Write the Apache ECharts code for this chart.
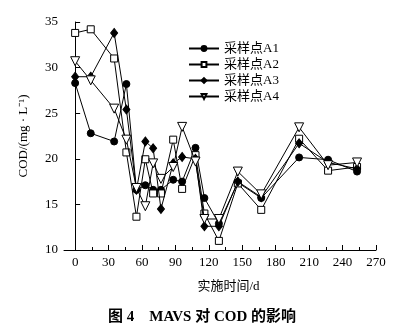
<!DOCTYPE html>
<html>
<head>
<meta charset="utf-8">
<script src="https://cdn.jsdelivr.net/npm/echarts@6/dist/echarts.min.js"></script>
<style>
html,body{margin:0;padding:0;background:#fff;}
#chart{width:404px;height:331px;}
</style>
</head>
<body>
<div id="chart"></div>
<script>
const days = [0, 14, 35, 46, 55, 63, 70, 77, 88, 96, 108, 116, 129, 146, 167, 201, 227, 253];
const seriesNames = ['采样点A1', '采样点A2', '采样点A3', '采样点A4'];
const a1 = [28.3, 22.8, 21.9, 28.2, 16.6, 17.1, 16.6, 16.6, 17.7, 17.5, 21.2, 15.7, 12.9, 17.4, 15.7, 20.15, 19.9, 18.6];
const a2 = [33.8, 34.2, 31.0, 20.7, 13.65, 19.95, 16.2, 16.2, 22.1, 16.7, 20.4, 14.0, 11.0, 17.3, 14.4, 22.2, 18.7, 19.1];
const a3 = [29.0, 29.0, 33.8, 25.4, 16.6, 21.9, 21.15, 14.5, 19.5, 20.2, 20.0, 12.6, 12.6, 17.5, 15.8, 21.7, 19.6, 18.9];
const a4 = [30.7, 28.6, 25.5, 22.1, 16.8, 14.8, 19.5, 17.8, 19.1, 23.5, 19.7, 13.4, 13.4, 18.6, 16.1, 23.45, 19.3, 19.6];
const xTicks = [0, 30, 60, 90, 120, 150, 180, 210, 240, 270];
const xMinorTicks = [15, 45, 75, 105, 135, 165, 195, 225, 255];
const yTicks = [10, 15, 20, 25, 30, 35];

const serif = 'Liberation Serif, Times New Roman, Noto Sans CJK SC, serif';
const pair = (vals) => days.map((d, i) => [d, vals[i]]);

const styles = [
  {symbol: 'circle', symbolSize: 7, fill: '#000', rotate: 0},
  {symbol: 'rect', symbolSize: 7, fill: '#fff', rotate: 0},
  {symbol: 'diamond', symbolSize: [7, 9], fill: '#000', rotate: 0},
  {symbol: 'triangle', symbolSize: 9, fill: '#fff', rotate: 180}
];
const allVals = [a1, a2, a3, a4];

const chart = echarts.init(document.getElementById('chart'), null, {renderer: 'canvas'});
chart.setOption({
  animation: false,
  backgroundColor: '#fff',
  grid: {left: 64, right: 28, top: 22, bottom: 81, containLabel: false},
  legend: {
    orient: 'vertical',
    left: 183, top: 37,
    itemWidth: 30, itemHeight: 6, itemGap: 3,
    textStyle: {fontFamily: serif, fontSize: 13, color: '#000', lineHeight: 13},
    data: seriesNames
  },
  xAxis: [{
    type: 'value', min: -10, max: 270,
    name: '实施时间/d', nameLocation: 'middle', nameGap: 30,
    nameTextStyle: {fontFamily: serif, fontSize: 13, color: '#000', padding: [0, 0, 0, 17]},
    axisLine: {lineStyle: {color: '#000', width: 1}},
    axisTick: {inside: true, length: 5, lineStyle: {color: '#000'}, customValues: xTicks},
    axisLabel: {fontFamily: serif, fontSize: 13, color: '#000', margin: 6, customValues: xTicks},
    splitLine: {show: false}
  }, {
    type: 'value', min: -10, max: 270, position: 'bottom',
    axisLine: {show: false},
    axisTick: {inside: true, length: 3, lineStyle: {color: '#000'}, customValues: xMinorTicks},
    axisLabel: {show: false, customValues: xMinorTicks},
    splitLine: {show: false}
  }],
  yAxis: {
    type: 'value', min: 10, max: 35, interval: 5,
    name: 'COD/(mg · L⁻¹)', nameLocation: 'middle', nameGap: 34, nameRotate: 90,
    nameTextStyle: {fontFamily: serif, fontSize: 13, color: '#000'},
    axisLine: {show: true, lineStyle: {color: '#000', width: 1}},
    axisTick: {show: true, inside: true, length: 5, lineStyle: {color: '#000'}, customValues: yTicks},
    axisLabel: {fontFamily: serif, fontSize: 13, color: '#000', margin: 6, customValues: yTicks},
    splitLine: {show: false}
  },
  series: seriesNames.map((n, i) => ({
    name: n, type: 'line', xAxisIndex: 0,
    data: pair(allVals[i]),
    symbol: styles[i].symbol, symbolSize: styles[i].symbolSize, symbolRotate: styles[i].rotate,
    showAllSymbol: true,
    lineStyle: {color: '#000', width: 1},
    itemStyle: {color: styles[i].fill, borderColor: '#000', borderWidth: 1},
    z: 2 + i
  })),
  graphic: [{
    type: 'text', left: 'center', top: 310,
    style: {text: '图 4　MAVS 对 COD 的影响', fontFamily: serif, fontSize: 15, fontWeight: 'bold', fill: '#000'}
  }]
});
</script>
</body>
</html>
